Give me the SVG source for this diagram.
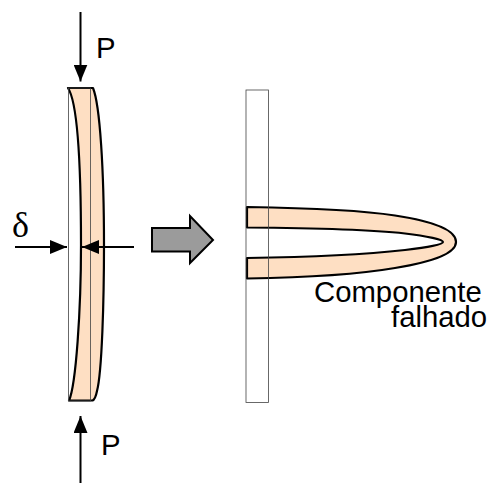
<svg xmlns="http://www.w3.org/2000/svg" width="488" height="484" viewBox="0 0 488 484">
<style>
.t{font-family:"Liberation Sans",Arial,sans-serif;font-size:29.300px;fill:#000}
.part{fill:#fedfc3;stroke:#000;stroke-width:2.200;stroke-linejoin:round}
.rect{fill:none;stroke:#444;stroke-width:.8}
.ln{stroke:#000;stroke-width:2;fill:none}
</style>
<defs><marker id="a" markerUnits="userSpaceOnUse" markerWidth="17" markerHeight="14" refX="17" refY="7" orient="auto"><path d="M0 0L17 7L0 14Z" fill="#000"/></marker></defs>
<g id="bent-component">
<path class="part" d="M68 88H93C100 105 104 170 104 245C104 300 102 372 97 391C96 396 94 400 92.500 400.500H69C76 385 81 310 81 245C81 150 76 100 68 88Z"/>
<rect class="rect" x="68.500" y="88" width="22" height="313"/>
</g>
<g id="failed-component">
<path class="part" d="M247 207C310 208 360 210 395 215.500C438 222 456 231 456 242C456 252 438 261 395 268C360 274 310 277.500 247 278.500V258C320 257 370 254 405 250C428 247 443 244.500 443 242C443 240 428 236 405 233.500C370 229.500 320 228 247 227.500Z"/>
<rect class="rect" x="246" y="90" width="22.500" height="312.500"/>
</g>
<g id="connectors">
<path class="ln" d="M80.500 12V81.500" marker-end="url(#a)"/>
<path class="ln" d="M80.500 483V416" marker-end="url(#a)"/>
<path class="ln" d="M15 247H67" marker-end="url(#a)"/>
<path class="ln" d="M134 247H82" marker-end="url(#a)"/>
</g>
<g id="big-arrow"><path d="M152 228H190V216L213 240L190 263V251.500H152Z" fill="#9b9b9b" stroke="#000" stroke-width="2"/></g>
<g id="labels">
<text class="t" x="96" y="58">P</text>
<text class="t" x="101" y="455">P</text>
<text x="12" y="237" style="font-family:'Liberation Serif',serif;font-size:36px">δ</text>
<text class="t" x="314" y="302">Componente</text>
<text class="t" x="391" y="327">falhado</text>
</g>
</svg>
